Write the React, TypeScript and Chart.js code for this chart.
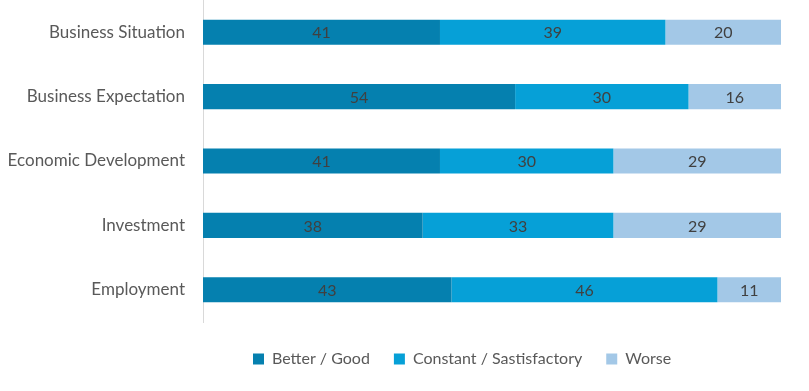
import React, { useEffect, useRef } from "react";
import { Chart, registerables } from "chart.js";

Chart.register(...registerables);

const categories = [
  "Business Situation",
  "Business Expectation",
  "Economic Development",
  "Investment",
  "Employment",
];
const betterGood = [41, 54, 41, 38, 43];
const constantSatisfactory = [39, 30, 30, 33, 46];
const worse = [20, 16, 29, 29, 11];
const seriesNames = ["Better / Good", "Constant / Sastisfactory", "Worse"];
const seriesColors = ["#0580AF", "#06A0D7", "#A3C8E7"];

const FONT = "Lato, sans-serif";
const LEGEND_PAD = 24;

const valueLabels = {
  id: "valueLabels",
  afterDatasetsDraw(chart: any) {
    const ctx = chart.ctx;
    ctx.save();
    ctx.font = `16px ${FONT}`;
    ctx.fillStyle = "#404040";
    ctx.textAlign = "center";
    ctx.textBaseline = "middle";
    chart.data.datasets.forEach((ds: any, di: number) => {
      const meta = chart.getDatasetMeta(di);
      meta.data.forEach((el: any, i: number) => {
        const p = el.getCenterPoint();
        ctx.fillText(String(ds.data[i]), p.x, p.y + 1);
      });
    });
    ctx.restore();
  },
};

const legendHeight = {
  id: "legendHeight",
  beforeInit(chart: any) {
    const legend = chart.legend;
    if (!legend) return;
    const orig = legend.fit;
    legend.fit = function () {
      orig.call(this);
      this.height = 69;
    };
  },
  afterLayout(chart: any) {
    const legend = chart.legend;
    if (!legend) return;
    const w = legend.right - legend.left;
    legend.left = 253 - LEGEND_PAD;
    legend.right = legend.left + w;
    legend.top += 5;
    legend.bottom += 5;
  },
};

export default function App() {
  const ref = useRef<HTMLCanvasElement>(null);
  useEffect(() => {
    const chart = new Chart(ref.current!, {
      type: "bar",
      data: {
        labels: categories,
        datasets: [betterGood, constantSatisfactory, worse].map((d, i) => ({
          label: seriesNames[i],
          data: d,
          backgroundColor: seriesColors[i],
          borderWidth: 0,
          barPercentage: 0.39,
          categoryPercentage: 1,
        })),
      },
      options: {
        indexAxis: "y",
        animation: false,
        responsive: false,
        maintainAspectRatio: false,
        layout: { padding: { top: 0, right: 28, bottom: 0, left: 0 } },
        scales: {
          x: { stacked: true, min: 0, max: 100, display: false },
          y: {
            stacked: true,
            grid: { display: false, drawTicks: false },
            border: { display: true, color: "#D9D9D9", width: 1 },
            ticks: {
              color: "#595959",
              font: { family: FONT, size: 17 },
              padding: 18,
            },
            afterFit(scale: any) {
              scale.width = 203;
              scale.paddingTop = 0;
              scale.paddingBottom = 0;
            },
          },
        },
        plugins: {
          legend: {
            position: "bottom",
            align: "start",
            labels: {
              color: "#595959",
              font: { family: FONT, size: 16 },
              boxWidth: 11,
              boxHeight: 11,
              padding: LEGEND_PAD,
            },
          },
          tooltip: { enabled: false },
        },
      },
      plugins: [valueLabels, legendHeight],
    });
    return () => chart.destroy();
  }, []);
  return (
    <div style={{ position: "fixed", left: 0, top: 0, width: 809, height: 391, background: "#fff" }}>
      <canvas ref={ref} width={809} height={391} style={{ display: "block" }} />
    </div>
  );
}
